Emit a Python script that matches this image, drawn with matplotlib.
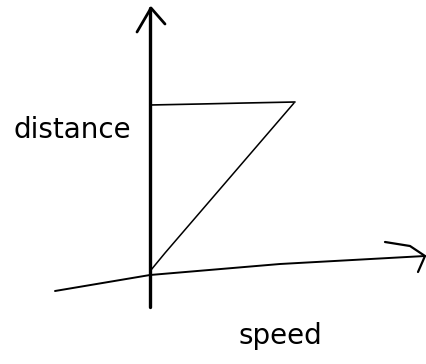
import matplotlib
matplotlib.use("Agg")
import matplotlib.pyplot as plt

# sketch coordinates (pixel space, y grows downward)
y_axis_x = [150, 150]
y_axis_y = [307, 8]
y_head_x = [137, 151, 165]
y_head_y = [32, 8, 24]

x_axis_x = [55, 150, 280, 425]
x_axis_y = [291, 275, 264, 256]
x_head_x = [385, 410, 425, 418]
x_head_y = [242, 246, 256, 272]

ramp_x = [151, 165, 294]
ramp_y = [270, 253, 103]

cap_x = [150, 200, 245, 295]
cap_y = [105, 104, 103, 102]

y_label = "distance"
x_label = "speed"

fig = plt.figure(figsize=(4.27, 3.64), dpi=100)
ax = fig.add_axes([0, 0, 1, 1])
ax.set_xlim(0, 427)
ax.set_ylim(364, 0)
ax.axis("off")

ax.plot(y_axis_x, y_axis_y, color="black", lw=2.4, solid_capstyle="round")
ax.plot(y_head_x, y_head_y, color="black", lw=2.0, solid_capstyle="round",
        solid_joinstyle="round")
ax.plot(x_axis_x, x_axis_y, color="black", lw=1.4, solid_capstyle="round")
ax.plot(x_head_x, x_head_y, color="black", lw=1.6, solid_capstyle="round",
        solid_joinstyle="round")
ax.plot(ramp_x, ramp_y, color="black", lw=1.1, solid_capstyle="round")
ax.plot(cap_x, cap_y, color="black", lw=1.2, solid_capstyle="round")

ax.text(72, 130, y_label, fontsize=20, ha="center", va="center",
        family="DejaVu Sans")
ax.text(280, 336, x_label, fontsize=20, ha="center", va="center",
        family="DejaVu Sans")

fig.savefig("out.png", dpi=100)
